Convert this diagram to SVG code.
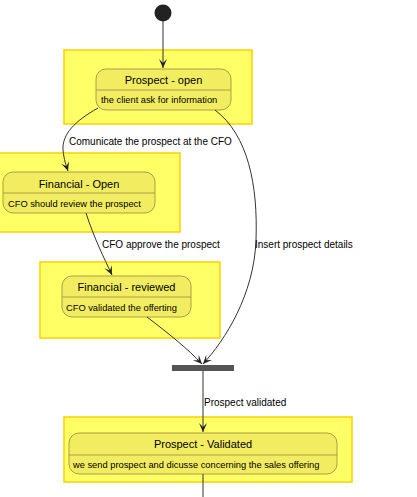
<svg xmlns="http://www.w3.org/2000/svg" width="417" height="497" viewBox="0 0 417 497">
<defs>
<style>
.outer{fill:#FFFF66;stroke:#FFD000;stroke-width:1.5}
.st{fill:#F2EC60;stroke:#A8A048;stroke-width:1}
.div{stroke:#A8A048;stroke-width:1}
.title{font-family:"Liberation Sans",Arial,sans-serif;font-size:11px;fill:#000;text-anchor:middle}
.desc{font-family:"Liberation Sans",Arial,sans-serif;font-size:9.3px;fill:#000}
.lbl{font-family:"Liberation Sans",Arial,sans-serif;font-size:10px;fill:#000}
.edge{fill:none;stroke:#333;stroke-width:1}
</style>
<marker id="arr" viewBox="-10 -5 11 10" refX="0" refY="0" markerWidth="11" markerHeight="10" markerUnits="userSpaceOnUse" orient="auto">
<path d="M0,0 L-9,-4 L-5,0 L-9,4 Z" fill="#222"/>
</marker>
</defs>
<rect width="417" height="497" fill="#fff"/>
<g id="start"><circle cx="163" cy="13" r="8.5" fill="#222"/></g>
<g id="prospect-open">
<rect class="outer" x="64" y="50" width="188" height="74"/>
<rect class="st" x="96" y="69" width="135" height="41" rx="10"/>
<line class="div" x1="96" y1="90" x2="231" y2="90"/>
<text class="title" x="163.5" y="84">Prospect - open</text>
<text class="desc" x="101" y="103">the client ask for information</text>
</g>
<g id="financial-open">
<rect class="outer" x="-2" y="153" width="182" height="79"/>
<rect class="st" x="3" y="172" width="152" height="41" rx="10"/>
<line class="div" x1="3" y1="193" x2="155" y2="193"/>
<text class="title" x="79" y="188">Financial - Open</text>
<text class="desc" x="8" y="207">CFO should review the prospect</text>
</g>
<g id="financial-reviewed">
<rect class="outer" x="40" y="262" width="180" height="76"/>
<rect class="st" x="62" y="276" width="129" height="41" rx="10"/>
<line class="div" x1="62" y1="297" x2="191" y2="297"/>
<text class="title" x="126.5" y="291">Financial - reviewed</text>
<text class="desc" x="66" y="311">CFO validated the offerting</text>
</g>
<g id="join"><rect x="172" y="365" width="62" height="6" fill="#555"/></g>
<g id="prospect-validated">
<rect class="outer" x="64" y="417" width="288" height="65"/>
<rect class="st" x="69" y="433" width="268" height="41" rx="10"/>
<line class="div" x1="69" y1="455" x2="337" y2="455"/>
<text class="title" x="203" y="448">Prospect - Validated</text>
<text class="desc" x="73" y="468">we send prospect and dicusse concerning the sales offering</text>
</g>
<g id="connectors">
<path class="edge" d="M163,21 L163,68" marker-end="url(#arr)"/>
<path class="edge" d="M98,108 C75,121 62,134 63,150 C64,160 66,165 68,171" marker-end="url(#arr)"/>
<text class="lbl" x="69" y="145">Comunicate the prospect at the CFO</text>
<path class="edge" d="M215,110 C248,135 258,185 256,240 C254,295 225,340 203,364" marker-end="url(#arr)"/>
<text class="lbl" x="255" y="248">Insert prospect details</text>
<path class="edge" d="M86,213 C94,238 104,258 112,275" marker-end="url(#arr)"/>
<text class="lbl" x="102" y="248">CFO approve the prospect</text>
<path class="edge" d="M147,317 C168,333 188,349 202,364" marker-end="url(#arr)"/>
<path class="edge" d="M203,371 L203,432" marker-end="url(#arr)"/>
<text class="lbl" x="204" y="406">Prospect validated</text>
<path class="edge" d="M203,474 L203,497"/>
</g>
</svg>
